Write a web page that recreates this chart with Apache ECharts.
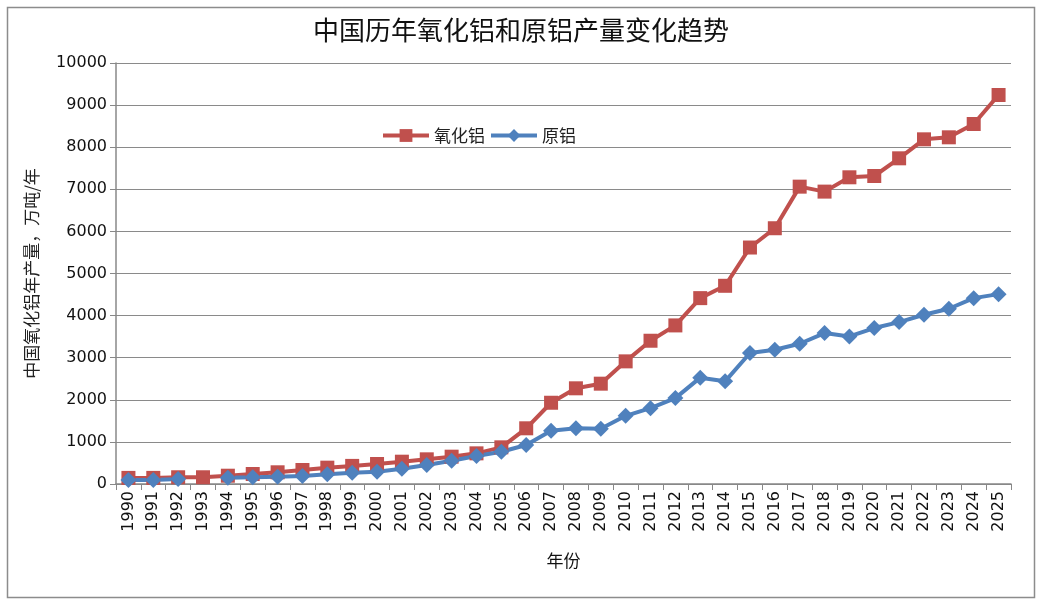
<!DOCTYPE html>
<html><head><meta charset="utf-8">
<script src="https://cdn.jsdelivr.net/npm/echarts@6/dist/echarts.min.js"></script>
<style>html,body{margin:0;padding:0;background:#fff}#c{width:1042px;height:606px}</style>
</head><body><div id="c"></div>
<script>
const years = ['1990','1991','1992','1993','1994','1995','1996','1997','1998','1999','2000','2001','2002','2003','2004','2005','2006','2007','2008','2009','2010','2011','2012','2013','2014','2015','2016','2017','2018','2019','2020','2021','2022','2023','2024','2025'];
const alumina = [145,145,160,160,197,237,278,333,388,430,475,530,586,649,728,871,1323,1930,2273,2383,2913,3403,3767,4415,4708,5617,6075,7063,6945,7285,7316,7736,8187,8235,8551,9240];
const primaryAl = [95,95,119,null,150,158,174,190,230,269,293,360,451,554,665,767,926,1266,1323,1310,1620,1802,2040,2526,2439,3111,3190,3332,3585,3506,3704,3846,4020,4162,4415,4510];
const yTicks = [0,1000,2000,3000,4000,5000,6000,7000,8000,9000,10000];

const chart = echarts.init(document.getElementById('c'));
chart.setOption({
  animation:false,
  backgroundColor:'#fff',
  graphic:[{type:'rect',shape:{x:7.5,y:7.5,width:1027,height:590},style:{fill:'none',stroke:'#8c8c8c',lineWidth:1.5},z:-1}],
  title:{text:'中国历年氧化铝和原铝产量变化趋势',left:'center',top:12,
    textStyle:{fontFamily:'Noto Sans CJK SC',fontSize:26,fontWeight:'normal',color:'#111'}},
  legend:{left:376,top:122,itemGap:4,itemWidth:46,itemHeight:16,
    lineStyle:{width:4},
    textStyle:{fontFamily:'Noto Sans CJK SC',fontSize:17,color:'#222'},
    data:['氧化铝','原铝']},
  grid:{left:116,right:31,top:63,bottom:122,containLabel:false},
  xAxis:{type:'category',data:years,boundaryGap:true,
    name:'年份',nameLocation:'middle',nameGap:68,
    nameTextStyle:{fontFamily:'Noto Sans CJK SC',fontSize:17,color:'#111'},
    axisLine:{lineStyle:{color:'#888',width:1.5}},
    axisTick:{show:true,length:6,alignWithLabel:false,lineStyle:{color:'#888'}},
    axisLabel:{rotate:90,interval:0,fontFamily:'DejaVu Sans',fontSize:16,color:'#111',margin:7}},
  yAxis:{type:'value',min:0,max:10000,interval:1000,
    name:'中国氧化铝年产量，万吨/年',nameLocation:'middle',nameGap:76,nameRotate:90,
    nameTextStyle:{fontFamily:'Noto Sans CJK SC',fontSize:17,color:'#222'},
    axisLine:{show:true,lineStyle:{color:'#888',width:1.5}},
    axisTick:{show:true,length:6,lineStyle:{color:'#888'}},
    splitLine:{lineStyle:{color:'#8a8a8a',width:1.2}},
    axisLabel:{fontFamily:'DejaVu Sans',fontSize:16,color:'#111',margin:9,
      formatter:v=>yTicks.includes(v)?String(v):''}},
  series:[
    {name:'氧化铝',type:'line',data:alumina,symbol:'rect',symbolSize:14,
      itemStyle:{color:'#C0504D'},lineStyle:{color:'#C0504D',width:4}},
    {name:'原铝',type:'line',data:primaryAl,symbol:'diamond',symbolSize:16,connectNulls:false,
      itemStyle:{color:'#4F81BD'},lineStyle:{color:'#4F81BD',width:4}}
  ]
});
</script></body></html>
